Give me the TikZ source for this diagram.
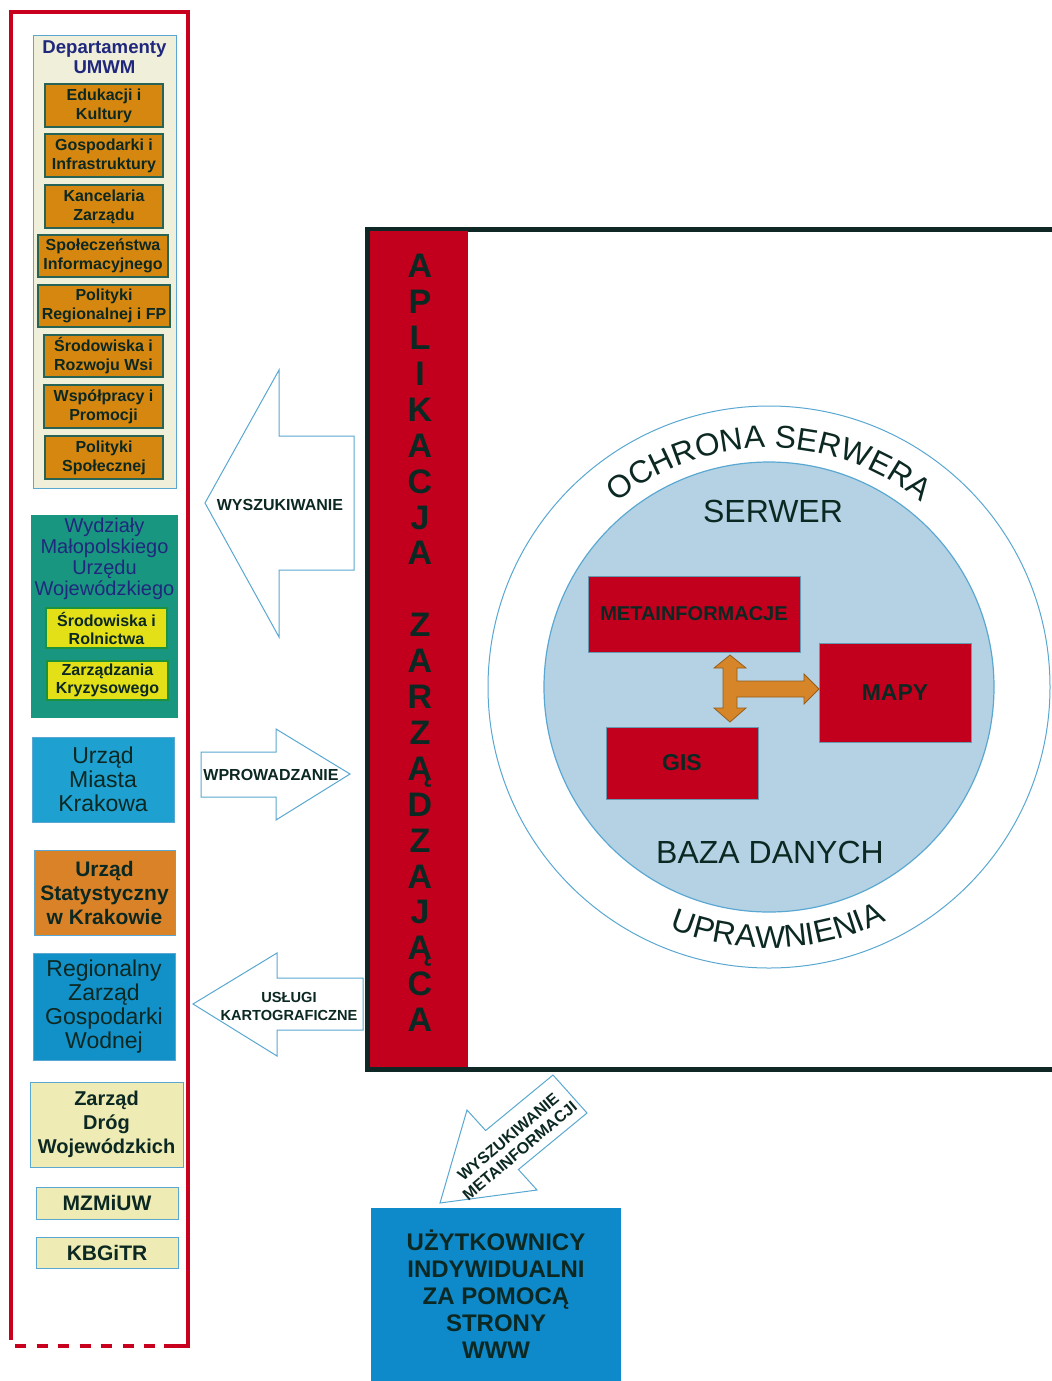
\documentclass[tikz,border=0pt]{standalone}
\usepackage{fontspec}
\setmainfont{Liberation Sans}
\usetikzlibrary{decorations.text}
\definecolor{ramka}{RGB}{200,0,30}
\definecolor{czerwien}{RGB}{194,0,30}
\definecolor{tekst}{RGB}{12,40,34}
\definecolor{granat}{RGB}{32,40,125}
\definecolor{pomarancz}{RGB}{214,135,15}
\definecolor{zielonka}{RGB}{40,100,85}
\definecolor{bez}{RGB}{240,240,218}
\definecolor{bezjasny}{RGB}{238,236,180}
\definecolor{morski}{RGB}{24,150,128}
\definecolor{zolty}{RGB}{228,224,24}
\definecolor{niebieski}{RGB}{30,160,208}
\definecolor{niebieskic}{RGB}{18,145,200}
\definecolor{uzytk}{RGB}{14,138,203}
\definecolor{rudy}{RGB}{218,130,40}
\definecolor{kontur}{RGB}{90,168,210}
\definecolor{kolo}{RGB}{180,210,228}
\definecolor{grafit}{RGB}{15,40,38}
\definecolor{strzalka}{RGB}{214,133,40}
\tikzset{
    every node/.style={inner sep=0pt, text=tekst, align=center},
    dzial/.style={draw=zielonka, line width=.6pt, fill=pomarancz, font=\bfseries\fontsize{8}{9.5}\selectfont},
    wydz/.style={draw=zielonka!70!green, line width=.6pt, fill=zolty, font=\bfseries\fontsize{8}{9}\selectfont},
    urzad/.style={draw=kontur, line width=.4pt, font=\fontsize{11.5}{12}\selectfont},
    tlusty/.style={urzad, font=\bfseries\fontsize{10.5}{12}\selectfont},
    serw/.style={draw=kontur!60!gray, line width=.5pt, fill=czerwien, font=\bfseries\fontsize{11.5}{13}\selectfont},
    pusta/.style={draw=kontur, line width=.5pt, fill=white},
    opis/.style={font=\bfseries\fontsize{8}{9}\selectfont}
}
\begin{document}
\begin{tikzpicture}[x=.5pt, y=-.5pt]
    \useasboundingbox[fill=white](0,0) rectangle (1052,1381);
    % lewa kolumna
    \draw[ramka, line width=2.4pt](11,1340)--(11,12)--(188,12)--(188,1346)--(164,1346);
    \draw[ramka, line width=2.4pt, dash pattern=on 5.5pt off 5.25pt](15,1346)--(160,1346);
    \node[draw=kontur, line width=.5pt, fill=bez, minimum width=71.5pt, minimum height=226.5pt](dep)at(104.5,261.5){};
    \node[font=\bfseries\fontsize{9.3}{10}\selectfont, text=granat](depT)at(104.5,57){Departamenty\\UMWM};
    \node[dzial, minimum width=59pt, minimum height=21.5pt](edu)at(104,105.5){Edukacji i\\Kultury};
    \node[dzial, minimum width=59pt, minimum height=21.5pt](gosp)at(104,155.5){Gospodarki i\\Infrastruktury};
    \node[dzial, minimum width=59pt, minimum height=21.5pt](kanc)at(104,206.5){Kancelaria\\Zarządu};
    \node[dzial, minimum width=65pt, minimum height=21pt](spol)at(103,256){Społeczeństwa\\Informacyjnego};
    \node[dzial, minimum width=66pt, minimum height=21pt](regio)at(104,306){Polityki\\Regionalnej i FP};
    \node[dzial, minimum width=59.5pt, minimum height=21pt](srod)at(103.5,356){Środowiska i\\Rozwoju Wsi};
    \node[dzial, minimum width=59.5pt, minimum height=21.5pt](wspol)at(103.5,406.5){Współpracy i\\Promocji};
    \node[dzial, minimum width=59pt, minimum height=21.5pt](polsp)at(104,457.5){Polityki\\Społecznej};
    \node[fill=morski, minimum width=73.5pt, minimum height=101.5pt](wyd)at(104.5,616.5){};
    \node[font=\fontsize{10}{10.5}\selectfont, text=granat](wydT)at(104.5,558.5){Wydziały\\Małopolskiego\\Urzędu\\Wojewódzkiego};
    \node[wydz, minimum width=60.5pt, minimum height=20pt](rol)at(106.5,628){Środowiska i\\Rolnictwa};
    \node[wydz, minimum width=60.5pt, minimum height=19.5pt](kryz)at(107.5,680.5){Zarządzania\\Kryzysowego};
    \node[urzad, fill=niebieski, minimum width=71pt, minimum height=42.5pt](umk)at(103,779.5){Urząd\\Miasta\\Krakowa};
    \node[tlusty, fill=rudy, minimum width=70.5pt, minimum height=42.5pt](gus)at(104.5,892.5){Urząd\\Statystyczny\\w Krakowie};
    \node[urzad, fill=niebieskic, minimum width=71pt, minimum height=53.5pt](rzgw)at(104,1006.5){Regionalny\\Zarząd\\Gospodarki\\Wodnej};
    \node[tlusty, fill=bezjasny, font=\bfseries\fontsize{10}{12}\selectfont, minimum width=76.5pt, minimum height=42.5pt](zdw)at(106.5,1124.5){Zarząd\\Dróg\\Wojewódzkich};
    \node[tlusty, fill=bezjasny, minimum width=71pt, minimum height=16pt](mzmiuw)at(107,1203){MZMiUW};
    \node[tlusty, fill=bezjasny, minimum width=71pt, minimum height=15.5pt](kbgitr)at(107,1252.5){KBGiTR};
    % strzalki
    \draw[pusta](354,436)--(279,436)--(279,370)--(205,503)--(279,637)--(279,570)--(354,570)--cycle;
    \draw[pusta](201,752)--(276,752)--(276,729)--(350,774)--(276,820)--(276,797)--(201,797)--cycle;
    \draw[pusta](363,978)--(277,978)--(277,953)--(193,1004)--(277,1056)--(277,1030)--(363,1030)--cycle;
    \draw[pusta](553,1075)--(485.6,1130.5)--(467,1110)--(440,1203)--(537,1190)--(518.4,1169.5)--(587,1113)--cycle;
    \node[opis](wysz)at(280,505){WYSZUKIWANIE};
    \node[opis](wprow)at(271,775){WPROWADZANIE};
    \node[opis, font=\bfseries\fontsize{7.3}{9}\selectfont](uslugi)at(289,1006){USŁUGI\\KARTOGRAFICZNE};
    \node[opis, rotate=40](meta)at(514,1144){WYSZUKIWANIE\\METAINFORMACJI};
    % aplikacja
    \draw[grafit, line width=2.5pt](1053,229)--(367,229)--(367,1069)--(1053,1069);
    \fill[czerwien](370,231) rectangle (468,1067);
    \node[font=\bfseries\fontsize{17}{17.95}\selectfont](apl)at(420,643){A\\P\\L\\I\\K\\A\\C\\J\\A\\[17.95pt]Z\\A\\R\\Z\\Ą\\D\\Z\\A\\J\\Ą\\C\\A};
    % serwer
    \draw[kontur, line width=.5pt](769,687) circle[radius=281];
    \fill[kolo](769,687) circle[radius=225];
    \draw[kontur, line width=.6pt](769,687) circle[radius=225];
    \path[decorate, decoration={text along path, text align=center, text color=tekst,
        text={|\fontsize{15.8}{18}\selectfont|OCHRONA SERWERA}}]
        (769,687) ++(-170:239) arc[start angle=-170, end angle=-10, radius=239];
    \path[decorate, decoration={text along path, text align=center, text color=tekst,
        text={|\fontsize{15.8}{18}\selectfont|UPRAWNIENIA}}]
        (769,687) ++(167.8:261) arc[start angle=167.8, end angle=7.8, radius=261];
    \node[font=\fontsize{16}{18}\selectfont](serwer)at(773,511){SERWER};
    \node[font=\fontsize{16}{18}\selectfont](baza)at(770,852){BAZA DANYCH};
    \node[serw, font=\bfseries\fontsize{10}{12}\selectfont, minimum width=106pt, minimum height=38pt](metainf)at(694,614){METAINFORMACJE};
    \node[serw, minimum width=76pt, minimum height=49.5pt](mapy)at(895,692.5){MAPY};
    \node[serw, minimum width=76pt, minimum height=36pt](gis)at(682,763){GIS};
    \draw[fill=strzalka, draw=strzalka!70!black, line width=.4pt](730,655)--(746,668)--(737,668)--(737,681)--(804,681)--(804,674)--(819,689)
        --(804,704)--(804,697)--(737,697)--(737,708)--(746,708)--(730,722)--(714,708)--(723,708)--(723,668)--(714,668)--cycle;
    % uzytkownicy
    \node[fill=uzytk, font=\bfseries\fontsize{12}{13.5}\selectfont, minimum width=125pt, minimum height=86.5pt](www)at(496,1294.5){UŻYTKOWNICY\\INDYWIDUALNI\\ZA POMOCĄ\\STRONY\\WWW};
\end{tikzpicture}
\end{document}
